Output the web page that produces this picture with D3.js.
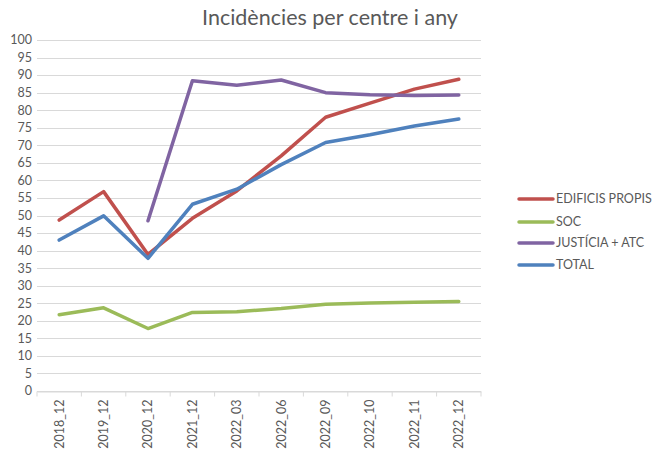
<!DOCTYPE html>
<html>
<head>
<meta charset="utf-8">
<script src="https://cdn.jsdelivr.net/npm/d3@7"></script>
<style>
  body { margin: 0; background: #fff; }
  text { font-family: Lato, "Open Sans", sans-serif; fill: #595959; }
</style>
</head>
<body>
<script>
// dades
const categories = ['2018_12', '2019_12', '2020_12', '2021_12', '2022_03', '2022_06', '2022_09', '2022_10', '2022_11', '2022_12'];
const edificis = [48.7, 56.8, 38.9, 49.2, 57.0, 67.0, 78.0, 82.0, 86.0, 88.8];
const soc = [21.7, 23.7, 17.8, 22.4, 22.6, 23.5, 24.7, 25.1, 25.3, 25.5];
const justicia = [null, null, 48.5, 88.4, 87.1, 88.6, 85.0, 84.4, 84.2, 84.3];
const total = [43.0, 49.9, 37.8, 53.2, 57.5, 64.5, 70.8, 73.0, 75.5, 77.5];
const yTicks = d3.range(0, 101, 5);

const series = [
    {name: 'EDIFICIS PROPIS', values: edificis, color: '#C0504D'},
    {name: 'SOC', values: soc, color: '#9BBB59'},
    {name: 'JUSTÍCIA + ATC', values: justicia, color: '#8064A2'},
    {name: 'TOTAL', values: total, color: '#4F81BD'}
];

const width = 656;
const height = 453;
const plot = {left: 37, right: 481, top: 40, bottom: 391};

const svg = d3.select('body')
    .append('svg')
    .attr('width', width)
    .attr('height', height);

const xScale = d3.scaleBand()
    .domain(categories)
    .range([plot.left, plot.right]);

const yScale = d3.scaleLinear()
    .domain([0, 100])
    .range([plot.bottom, plot.top]);

// títol
svg.append('text')
    .attr('x', 330)
    .attr('y', 25)
    .attr('text-anchor', 'middle')
    .style('font-size', '21.5px')
    .text('Incidències per centre i any');

// graella
svg.append('g')
    .selectAll('line')
    .data(yTicks)
    .enter()
    .append('line')
    .attr('x1', plot.left)
    .attr('x2', plot.right)
    .attr('y1', d => Math.round(yScale(d)) + 0.5)
    .attr('y2', d => Math.round(yScale(d)) + 0.5)
    .attr('stroke', '#d9d9d9')
    .attr('stroke-width', 1);

// eix Y
svg.append('g')
    .selectAll('text')
    .data(yTicks)
    .enter()
    .append('text')
    .attr('x', 32)
    .attr('y', d => yScale(d))
    .attr('dy', '0.35em')
    .attr('text-anchor', 'end')
    .style('font-size', '12.5px')
    .text(d => d);

// eix X
const xAxis = d3.axisBottom(xScale).tickSize(0);
const gx = svg.append('g')
    .attr('transform', 'translate(0,' + (Math.round(plot.bottom) + 0.5) + ')')
    .call(xAxis);
gx.select('.domain').attr('stroke', '#d9d9d9');
gx.selectAll('.tick text')
    .attr('transform', 'rotate(-90)')
    .attr('x', -8)
    .attr('y', 0)
    .attr('dy', '0.35em')
    .attr('text-anchor', 'end')
    .style('font-size', '12.5px')
    .style('font-family', 'Lato, "Open Sans", sans-serif')
    .attr('fill', '#595959');

// marques de l'eix
gx.selectAll('line.sep')
    .data(d3.range(categories.length + 1))
    .enter()
    .append('line')
    .attr('class', 'sep')
    .attr('x1', i => plot.left + i * xScale.step())
    .attr('x2', i => plot.left + i * xScale.step())
    .attr('y1', 0)
    .attr('y2', 5)
    .attr('stroke', '#d9d9d9');

// línies
const line = d3.line()
    .defined(d => d != null)
    .x((d, i) => xScale(categories[i]) + xScale.bandwidth() / 2)
    .y(d => yScale(d));

svg.append('g')
    .selectAll('path')
    .data(series)
    .enter()
    .append('path')
    .attr('d', d => line(d.values))
    .attr('fill', 'none')
    .attr('stroke', d => d.color)
    .attr('stroke-width', 3.5)
    .attr('stroke-linejoin', 'round')
    .attr('stroke-linecap', 'round');

// llegenda
const legendY = [199, 222, 243, 265];
const legend = svg.append('g')
    .selectAll('g')
    .data(series)
    .enter()
    .append('g')
    .attr('transform', (d, i) => 'translate(519,' + legendY[i] + ')');

legend.append('line')
    .attr('x1', 0)
    .attr('x2', 34)
    .attr('stroke', d => d.color)
    .attr('stroke-width', 3.5)
    .attr('stroke-linecap', 'round');

legend.append('text')
    .attr('x', 37)
    .attr('dy', '0.35em')
    .style('font-size', '12.5px')
    .text(d => d.name);
</script>
</body>
</html>
